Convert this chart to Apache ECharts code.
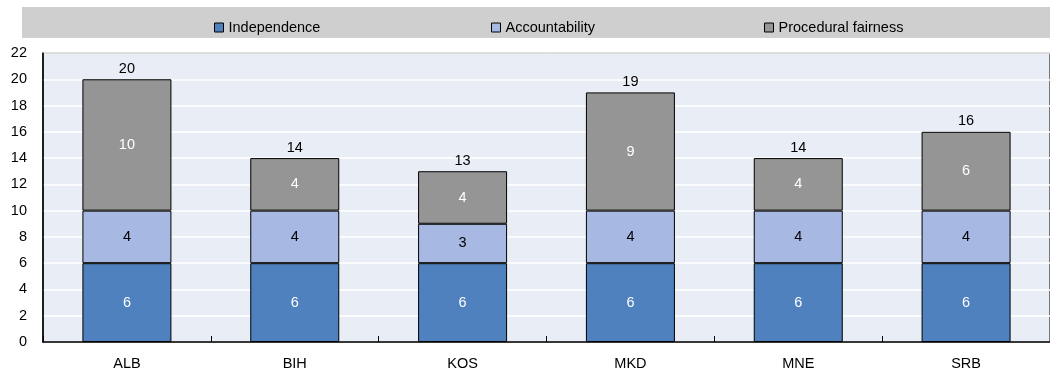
<!DOCTYPE html>
<html><head><meta charset="utf-8">
<script src="https://cdn.jsdelivr.net/npm/echarts@6/dist/echarts.min.js"></script>
<style>html,body{margin:0;padding:0;background:#fff}#c{width:1050px;height:373px}</style>
</head><body><div id="c"></div>
<script>
const categories = ['ALB','BIH','KOS','MKD','MNE','SRB'];
const independence = [6,6,6,6,6,6];
const accountability = [4,4,3,4,4,4];
const procedural = [10,4,4,9,4,6];
const yTicks = [0,2,4,6,8,10,12,14,16,18,20,22];
const totals = categories.map((c,i)=>independence[i]+accountability[i]+procedural[i]);

const FONT = '"Liberation Sans", Arial, sans-serif';
const FS = 14.5;
const colors = ['#4e81bd','#a7b8e3','#959595'];
const names = ['Independence','Accountability','Procedural fairness'];
const labelColors = ['#ffffff','#000000','#ffffff'];
const seriesData = [independence, accountability, procedural];

const chart = echarts.init(document.getElementById('c'), null, {renderer:'canvas'});
const series = seriesData.map((d,k)=>({
  name: names[k], type:'bar', stack:'s', data:d, barWidth:89,
  itemStyle:{color:colors[k], borderColor:'#000', borderWidth:1},
  label:{show:true, position:'inside', color:labelColors[k], fontSize:FS, fontFamily:FONT},
  emphasis:{disabled:true}
}));
series.push({
  name:'total', type:'bar', stack:'s', data:categories.map(()=>0), barWidth:89,
  itemStyle:{color:'transparent', borderWidth:0},
  label:{show:true, position:'top', distance:3, color:'#000', fontSize:FS, fontFamily:FONT,
    formatter:p=>totals[p.dataIndex]},
  emphasis:{disabled:true}
});

const legendLefts = [209, 486, 759];
chart.setOption({
  animation:false,
  textStyle:{fontFamily:FONT},
  graphic:[{type:'rect', shape:{x:22,y:7,width:1028,height:31}, style:{fill:'#cfcfcf'}, z:-1}],
  legend: names.map((n,k)=>({
    data:[n], left:legendLefts[k], top:15, itemWidth:9, itemHeight:9, itemGap:4,
    icon:'rect', textStyle:{fontSize:FS, color:'#000', fontFamily:FONT, padding:[0,0,0,0]},
    itemStyle:{borderColor:'#000', borderWidth:1}, selectedMode:false
  })),
  grid:{left:43, right:-8, top:53, bottom:31, show:true, backgroundColor:'#e9edf5',
    borderColor:'#000', borderWidth:1, containLabel:false},
  xAxis:{type:'category', data:categories,
    axisLine:{lineStyle:{color:'#000', width:1.5}},
    axisTick:{show:true, inside:true, length:6, lineStyle:{color:'#000'}},
    axisLabel:{color:'#000', fontSize:FS, margin:14, fontFamily:FONT}},
  yAxis:{type:'value', min:yTicks[0], max:yTicks[yTicks.length-1], interval:2,
    axisLine:{show:true, lineStyle:{color:'#000', width:1.5}},
    axisTick:{show:false},
    splitLine:{lineStyle:{color:'#ffffff', width:1.5}},
    axisLabel:{color:'#000', fontSize:FS, margin:16, fontFamily:FONT}},
  series
});
</script></body></html>
